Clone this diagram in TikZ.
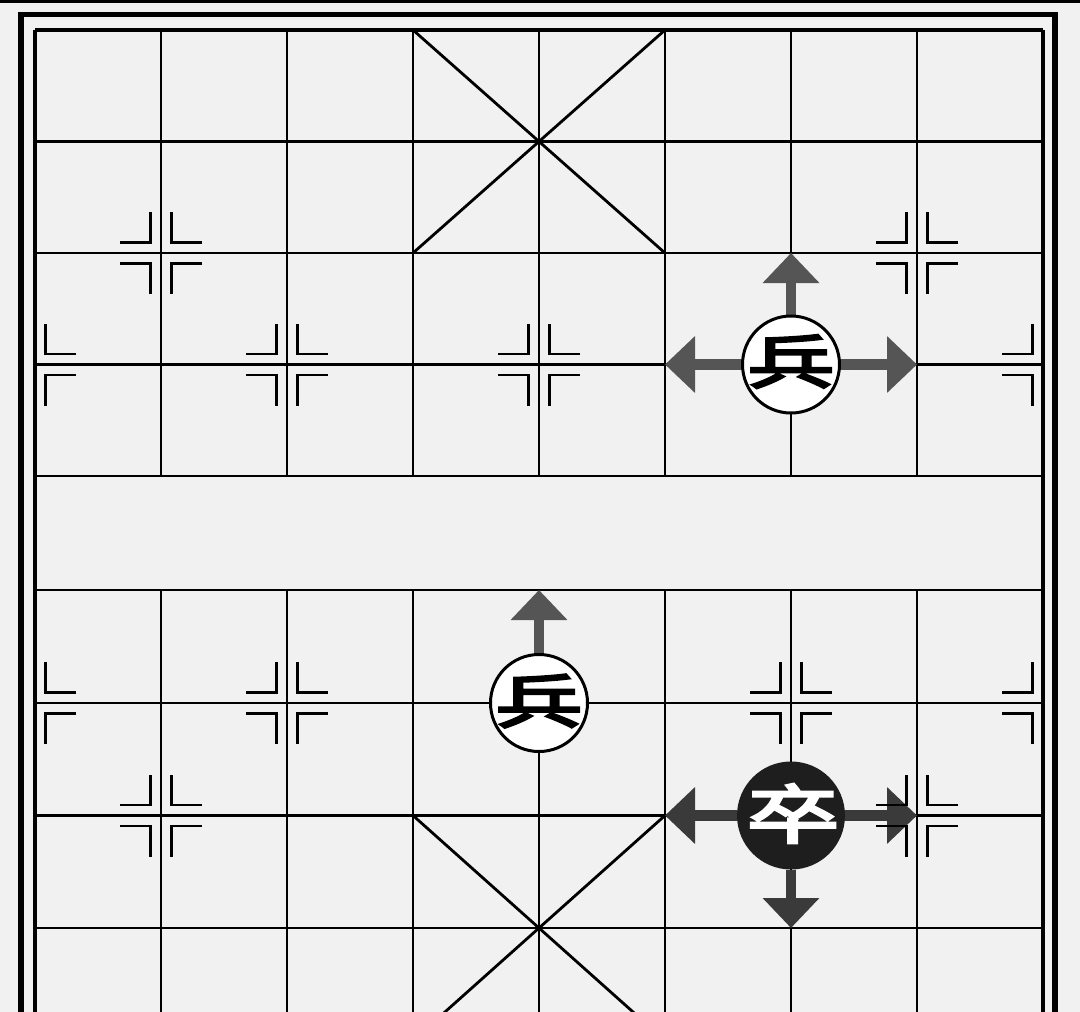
\documentclass[tikz,border=0pt]{standalone}
\usepackage{fontspec}
\newfontfamily\cjk[AutoFakeBold=4]{Noto Sans CJK SC}
\usetikzlibrary{arrows.meta,calc}
\definecolor{bg}{HTML}{F1F1F1}
\definecolor{arrA}{HTML}{555555}
\definecolor{arrB}{HTML}{3A3A3A}
\definecolor{blk}{HTML}{1E1E1E}
\pgfdeclarelayer{gridl}
\pgfdeclarelayer{arrl}
\pgfdeclarelayer{markl}
\pgfsetlayers{gridl,arrl,markl,main}
\newcommand{\quadmark}[3]{\draw[marker,shift={(#1)}] ({#2*41},{#3*10.5}) -- ({#2*10.5},{#3*10.5}) -- ({#2*10.5},{#3*41});}
\newcommand{\fullmark}[1]{\quadmark{#1}{1}{1}\quadmark{#1}{1}{-1}\quadmark{#1}{-1}{1}\quadmark{#1}{-1}{-1}}
\begin{document}
\begin{tikzpicture}[x=1pt,y=-1pt,
  gridline/.style={line width=2.8pt, black},
  boardedge/.style={line width=3.2pt, black},
  outerframe/.style={line width=5.5pt, black},
  marker/.style={line width=2.8pt, black, line cap=butt},
  moveA/.style={arrA, line width=10.5pt, -{Triangle[length=30pt,width=55pt]}},
  moveB/.style={arrB, line width=10.5pt, -{Triangle[length=30pt,width=55pt]}},
  redpiece/.style={circle, draw=black, line width=3pt, fill=white, minimum size=97pt, inner sep=0pt},
  blackpiece/.style={circle, fill=blk, minimum size=108pt, inner sep=0pt},
  bingtext/.style={inner sep=0pt, text=black, font=\cjk\bfseries\fontsize{58}{58}\selectfont},
  zutext/.style={inner sep=0pt, text=white, font=\cjk\bfseries\fontsize{64}{64}\selectfont}
]
\useasboundingbox (0,0) rectangle (1080,1012);
\clip (0,0) rectangle (1080,1012);
% intersections
\foreach \i in {0,...,8}
  \foreach \yy [count=\j from 0] in {30,141.5,253,364.5,476,590,703,815.5,928,1040.5}
    \coordinate (p-\i-\j) at ({35+126*\i},\yy);

\begin{pgfonlayer}{gridl}
\fill[bg] (0,0) rectangle (1080,1012);
\fill[black] (0,0) rectangle (1080,3);
\draw[outerframe] (21,14.5) rectangle (1055,1100);
% horizontals
\foreach \j in {1,...,9} \draw[gridline] (p-0-\j) -- (p-8-\j);
\draw[boardedge] (p-0-0) -- (p-8-0);
% verticals
\draw[boardedge] (p-0-0) -- (p-0-9);
\draw[boardedge] (p-8-0) -- (p-8-9);
\foreach \i in {1,...,7} {
  \draw[gridline] (p-\i-0) -- (p-\i-4);
  \draw[gridline] (p-\i-5) -- (p-\i-9);
}
% palaces
\draw[gridline] (p-3-0) -- (p-5-2);
\draw[gridline] (p-5-0) -- (p-3-2);
\draw[gridline] (p-3-7) -- (p-5-9);
\draw[gridline] (p-5-7) -- (p-3-9);
\end{pgfonlayer}

% pieces
\node[redpiece] (bingA) at (p-6-3) {};
\node[bingtext] (bingAt) at ([yshift=3pt]bingA.center) {\scalebox{1.5}[1]{兵}};
\node[redpiece] (bingB) at (p-4-6) {};
\node[bingtext] (bingBt) at ([yshift=2pt]bingB.center) {\scalebox{1.5}[1]{兵}};
\node[blackpiece] (zu) at (p-6-7) {};
\node[zutext] (zut) at ([xshift=2pt,yshift=2pt]zu.center) {\scalebox{1.45}[1]{卒}};

\begin{pgfonlayer}{arrl}
\draw[moveA] (bingA) -- (p-6-2);
\draw[moveA] (bingA) -- (p-5-3);
\draw[moveA] (bingA) -- (p-7-3);
\draw[moveA] (bingB) -- (p-4-5);
\draw[moveB] (zu) -- (p-5-7);
\draw[moveB] (zu) -- (p-7-7);
\draw[moveB] (zu) -- (p-6-8);
\end{pgfonlayer}

\begin{pgfonlayer}{markl}
\fullmark{p-1-2}
\fullmark{p-7-2}
\quadmark{p-0-3}{1}{1}\quadmark{p-0-3}{1}{-1}
\fullmark{p-2-3}
\fullmark{p-4-3}
\fullmark{p-6-3}
\quadmark{p-8-3}{-1}{1}\quadmark{p-8-3}{-1}{-1}
\quadmark{p-0-6}{1}{1}\quadmark{p-0-6}{1}{-1}
\fullmark{p-2-6}
\fullmark{p-4-6}
\fullmark{p-6-6}
\quadmark{p-8-6}{-1}{1}\quadmark{p-8-6}{-1}{-1}
\fullmark{p-1-7}
\fullmark{p-7-7}
\end{pgfonlayer}
\end{tikzpicture}
\end{document}
